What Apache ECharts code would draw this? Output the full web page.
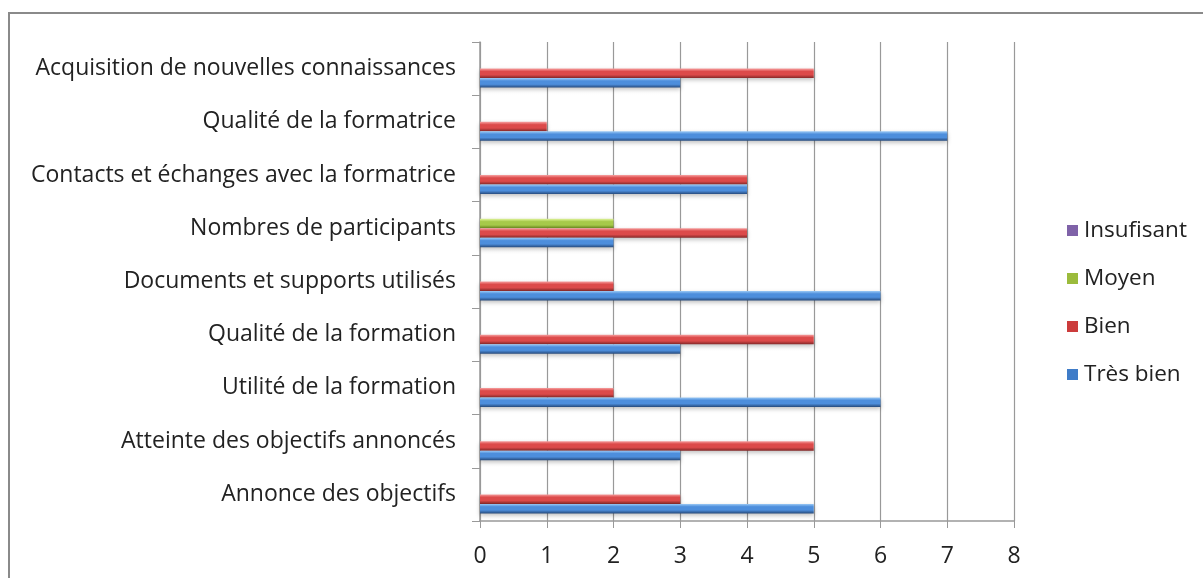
<!DOCTYPE html>
<html>
<head>
<meta charset="utf-8">
<script src="https://cdn.jsdelivr.net/npm/echarts@6/dist/echarts.min.js"></script>
<style>
html,body{margin:0;padding:0;background:#fff;}
#c{width:1203px;height:578px;}
</style>
</head>
<body>
<div id="c"></div>
<script>
var categories = [
  "Annonce des objectifs",
  "Atteinte des objectifs annoncés",
  "Utilité de la formation",
  "Qualité de la formation",
  "Documents et supports utilisés",
  "Nombres de participants",
  "Contacts et échanges avec la formatrice",
  "Qualité de la formatrice",
  "Acquisition de nouvelles connaissances"
];
var tresBien   = [5, 3, 6, 3, 6, 2, 4, 7, 3];
var bien       = [3, 5, 2, 5, 2, 4, 4, 1, 5];
var moyen      = [0, 0, 0, 0, 0, 2, 0, 0, 0];
var insufisant = [0, 0, 0, 0, 0, 0, 0, 0, 0];

function grad(top, mid, bot) {
  return new echarts.graphic.LinearGradient(0, 0, 0, 1, [
    {offset: 0, color: top},
    {offset: 0.3, color: mid},
    {offset: 0.65, color: mid},
    {offset: 1, color: bot}
  ]);
}
var colors = {
  insufisant: grad('#b19ad2', '#7f62a8', '#4a356a'),
  moyen: grad('#e0f49a', '#a6c94a', '#66861e'),
  bien: grad('#f7a0a0', '#dc4a4a', '#842828'),
  tresBien: grad('#9ccaf6', '#4d8edc', '#264a7c')
};
var legendColors = {insufisant:'#7f62a8', moyen:'#9bbb3c', bien:'#cc3c3c', tresBien:'#3f7cc8'};

function mk(name, data, key) {
  return {
    name: name, type: 'bar', data: data,
    barWidth: 9.5, barGap: '0%',
    itemStyle: {color: colors[key], shadowBlur: 4, shadowColor: 'rgba(0,0,0,0.25)', shadowOffsetY: 2},
    emphasis: {disabled: true}
  };
}

var FONT = '"Open Sans", Lato, sans-serif';
var chart = echarts.init(document.getElementById('c'));
chart.setOption({
  animation: false,
  backgroundColor: '#fff',
  textStyle: {fontFamily: FONT},
  graphic: [{
    type: 'rect', shape: {x: 9, y: 13, width: 1220, height: 620},
    style: {fill: 'none', stroke: '#8a8a8a', lineWidth: 2}, silent: true, z: -10
  }],
  grid: {left: 480, right: 189, top: 42, bottom: 57, containLabel: false},
  legend: {
    orient: 'vertical', left: 1062, top: 214, itemWidth: 11, itemHeight: 11,
    itemGap: 25, icon: 'rect',
    textStyle: {fontSize: 22.5, color: '#222', padding: [0, 0, 0, 1], fontFamily: FONT},
    data: [
      {name: 'Insufisant', itemStyle: {color: legendColors.insufisant}},
      {name: 'Moyen', itemStyle: {color: legendColors.moyen}},
      {name: 'Bien', itemStyle: {color: legendColors.bien}},
      {name: 'Très bien', itemStyle: {color: legendColors.tresBien}}
    ]
  },
  xAxis: {
    type: 'value', min: 0, max: 8, interval: 1,
    axisLine: {show: true, lineStyle: {color: '#999', width: 1.5}},
    axisTick: {show: true, length: 7, lineStyle: {color: '#999'}},
    axisLabel: {fontSize: 23, color: '#222', margin: 24, fontFamily: FONT},
    splitLine: {show: true, lineStyle: {color: '#999', width: 1.2}}
  },
  yAxis: {
    type: 'category', data: categories,
    axisLine: {show: true, lineStyle: {color: '#999', width: 1.5}},
    axisTick: {show: true, length: 8, alignWithLabel: false, lineStyle: {color: '#999'}},
    axisLabel: {fontSize: 23, color: '#222', margin: 24, fontFamily: FONT, padding: [4, 0, 0, 0]}
  },
  series: [
    mk('Insufisant', insufisant, 'insufisant'),
    mk('Moyen', moyen, 'moyen'),
    mk('Bien', bien, 'bien'),
    mk('Très bien', tresBien, 'tresBien')
  ]
});
</script>
</body>
</html>
